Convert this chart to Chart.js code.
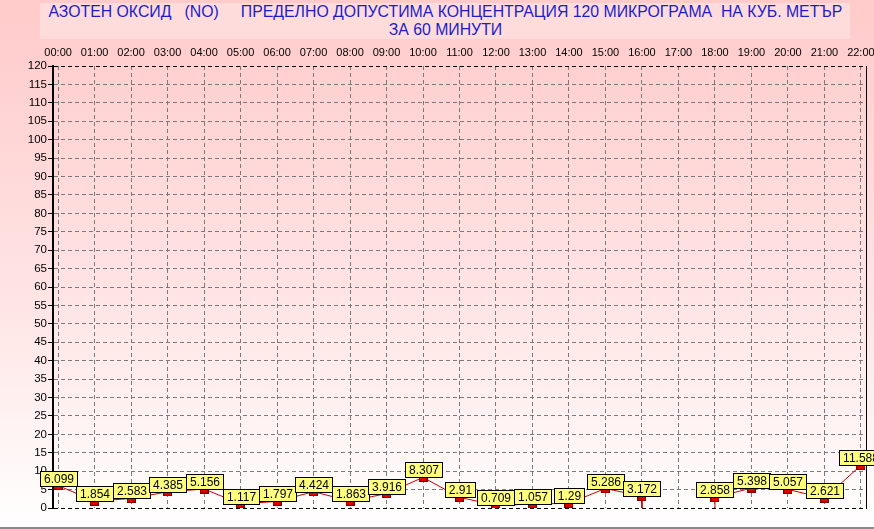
<!DOCTYPE html>
<html lang="bg">
<head>
    <meta charset="UTF-8">
    <title>АЗОТЕН ОКСИД (NO)</title>
    <script src="https://cdn.jsdelivr.net/npm/chart.js"></script>
    <style>
        body { margin: 0; font-family: "Liberation Sans", Arial, sans-serif; }
        #frame {
            position: relative; width: 874px; height: 529px; overflow: hidden;
            background: linear-gradient(to bottom, #ffcaca 0%, #ffe6e6 60%, #ffffff 100%);
        }
        #titleBox {
            position: absolute; left: 40px; top: 3px; width: 810px; height: 36px;
            background: #ffdcdc; text-align: center; color: #1c1cc8;
            font-size: 16px; line-height: 18px;
        }
        #titleBox span { display: inline-block; white-space: pre; transform-origin: center; }
        #bottomLine { position: absolute; left: 0; top: 527px; width: 874px; height: 2px; background: #8a8a8a; }
        canvas { position: absolute; left: 0; top: 0; }
    </style>
</head>
<body>
<div id="frame">
    <div id="titleBox">
        <span id="t1">АЗОТЕН ОКСИД   (NO)     ПРЕДЕЛНО ДОПУСТИМА КОНЦЕНТРАЦИЯ 120 МИКРОГРАМА  НА КУБ. МЕТЪР</span><br>
        <span id="t2">ЗА 60 МИНУТИ</span>
    </div>
    <canvas id="noChart" width="874" height="529"></canvas>
    <div id="bottomLine"></div>
</div>

<script>
    // hourly values, 17:00 missing
    const hours = ["00:00", "01:00", "02:00", "03:00", "04:00", "05:00", "06:00", "07:00", "08:00", "09:00", "10:00", "11:00",
                   "12:00", "13:00", "14:00", "15:00", "16:00", "17:00", "18:00", "19:00", "20:00", "21:00", "22:00"];
    const noValues = [6.099, 1.854, 2.583, 4.385, 5.156, 1.117, 1.797, 4.424, 1.863, 3.916, 8.307, 2.91,
                      0.709, 1.057, 1.29, 5.286, 3.172, null, 2.858, 5.398, 5.057, 2.621, 11.588];
    const yTicks = [0, 120, 5];   // min, max, step

    // squeeze the title to the width of the original
    const t1 = document.getElementById("t1");
    const t2 = document.getElementById("t2");
    const k = 794 / t1.getBoundingClientRect().width;
    t1.style.transform = `scaleX(${k})`;
    t2.style.transform = `scaleX(${k})`;

    // small red marker
    const marker = document.createElement("canvas");
    marker.width = 9; marker.height = 9;
    const mctx = marker.getContext("2d");
    mctx.fillStyle = "#800000";
    mctx.fillRect(0, 0, 9, 9);
    mctx.fillStyle = "#e00000";
    mctx.fillRect(1, 1, 7, 7);

    const mainData = noValues.map((v, i) => ({ x: i, y: v }));

    // missing hour: line drops to zero on both sides
    const dropData = [];
    noValues.forEach((v, i) => {
        if (v === null) {
            if (i > 0 && noValues[i - 1] !== null) dropData.push({ x: i - 1, y: noValues[i - 1] }, { x: i - 1, y: 0 });
            dropData.push({ x: i, y: null });
            if (i < noValues.length - 1 && noValues[i + 1] !== null) dropData.push({ x: i + 1, y: 0 }, { x: i + 1, y: noValues[i + 1] });
        }
    });

    const labelBoxes = {
        id: "labelBoxes",
        afterDatasetsDraw(chart) {
            const ctx = chart.ctx;
            const meta = chart.getDatasetMeta(0);
            ctx.save();
            ctx.font = "12px 'Liberation Sans', Arial, sans-serif";
            ctx.textAlign = "center";
            ctx.textBaseline = "middle";
            meta.data.forEach((pt, i) => {
                const v = noValues[i];
                if (v === null) return;
                const txt = String(v);
                const w = Math.round(ctx.measureText(txt).width) + 7;
                const h = 15;
                const x0 = Math.round(pt.x - w / 2) + 0.5;
                const y0 = Math.round(pt.y - h) + 0.5;
                ctx.fillStyle = "#ffff80";
                ctx.fillRect(x0, y0, w, h);
                ctx.strokeStyle = "#000";
                ctx.lineWidth = 1;
                ctx.strokeRect(x0, y0, w, h);
                ctx.fillStyle = "#000";
                ctx.fillText(txt, x0 + w / 2, y0 + h / 2 + 1);
            });
            ctx.restore();
        }
    };

    new Chart(document.getElementById("noChart"), {
        type: "line",
        data: {
            datasets: [{
                data: mainData,
                borderColor: "#cc0000",
                borderWidth: 1,
                pointStyle: marker,
                spanGaps: false,
                tension: 0
            }, {
                data: dropData,
                borderColor: "#cc0000",
                borderWidth: 1,
                pointRadius: 0,
                spanGaps: false
            }]
        },
        options: {
            responsive: false,
            animation: false,
            layout: { padding: { top: 0, left: 0, right: 0, bottom: 21 } },
            plugins: { legend: { display: false }, tooltip: { enabled: false } },
            scales: {
                x: {
                    type: "linear",
                    position: "top",
                    min: -0.14,
                    max: 22.14,
                    afterBuildTicks: s => { s.ticks = hours.map((h, i) => ({ value: i })); },
                    afterFit: s => { s.height = 66; s.paddingLeft = 0; s.paddingRight = 0; },
                    ticks: {
                        callback: v => hours[v],
                        color: "#000",
                        padding: 6,
                        maxRotation: 0,
                        autoSkip: false,
                        font: { family: "'Liberation Sans', Arial", size: 11 }
                    },
                    grid: { color: "#7a7a7a", drawTicks: false },
                    border: { display: false, dash: [4, 3] }
                },
                y: {
                    min: yTicks[0],
                    max: yTicks[1],
                    afterFit: s => { s.width = 53; s.paddingTop = 0; s.paddingBottom = 0; },
                    ticks: {
                        stepSize: yTicks[2],
                        color: "#000",
                        padding: 1,
                        font: { family: "'Liberation Sans', Arial", size: 11.5 }
                    },
                    grid: {
                        color: c => (c.tick && (c.tick.value === 0 || c.tick.value === 120)) ? "#000" : "#7a7a7a",
                        tickLength: 5,
                        tickColor: "#000",
                        tickBorderDash: []
                    },
                    border: { color: "#000", width: 2, dash: [4, 3] }
                },
                yR: {
                    position: "right",
                    min: 0,
                    max: 1,
                    afterFit: s => { s.width = 8; s.paddingTop = 0; s.paddingBottom = 0; },
                    ticks: { display: false },
                    grid: { display: false },
                    border: { color: "#000", width: 1 }
                }
            }
        },
        plugins: [labelBoxes]
    });
</script>
</body>
</html>
